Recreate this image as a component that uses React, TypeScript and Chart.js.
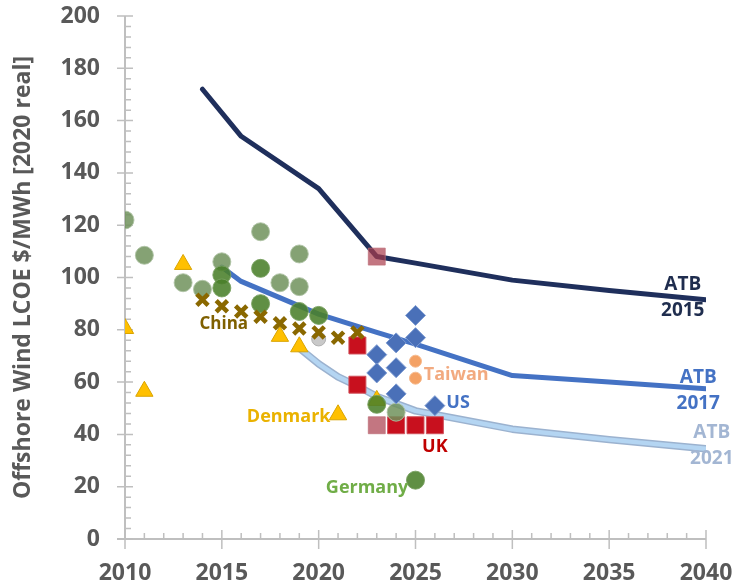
import React, { useEffect, useRef } from "react";
import { Chart, registerables } from "chart.js";

Chart.register(...registerables);

// ATB projection curves (year, $/MWh)
const atb2015Years = [2014, 2016, 2020, 2023, 2025, 2030, 2035, 2040];
const atb2015Lcoe = [172, 154, 134, 108, 105.5, 99, 95, 91.5];
const atb2017Years = [2015, 2016, 2020, 2023, 2025, 2030, 2035, 2040];
const atb2017Lcoe = [104, 98.5, 86, 79, 74.5, 62.5, 60, 57.5];
const atb2021Years = [2019, 2020, 2021, 2022, 2023, 2025, 2030, 2035, 2040];
const atb2021Lcoe = [73, 67, 62, 58.5, 54.5, 49, 42, 38, 34.5];

// Market observations
const europeYears = [2010, 2011, 2013, 2014, 2015, 2017, 2018, 2019, 2019, 2024];
const europeLcoe = [122, 108.5, 98, 95.5, 106, 117.5, 98, 109, 96.5, 48.5];
const germanyYears = [2015, 2015, 2017, 2017, 2019, 2020, 2023, 2025];
const germanyLcoe = [101, 96, 103.5, 90, 87, 85.5, 51.5, 22.5];
const otherYears = [2020];
const otherLcoe = [76.5];
const chinaYears = [2014, 2015, 2016, 2017, 2018, 2019, 2020, 2021, 2022];
const chinaLcoe = [91.5, 89, 87, 85, 82.5, 80.5, 79, 77, 79];
const denmarkYears = [2010, 2011, 2013, 2018, 2019, 2021, 2023];
const denmarkLcoe = [80.5, 56.5, 105, 77.5, 73.5, 47.5, 53];
const ukYears = [2022, 2022, 2024, 2025, 2026];
const ukLcoe = [74, 59, 43.5, 43.5, 43.5];
const ukPaleYears = [2023, 2023];
const ukPaleLcoe = [108, 43.5];
const usYears = [2025, 2025, 2024, 2023, 2023, 2024, 2024, 2026];
const usLcoe = [85.5, 77, 75, 70.5, 63.5, 65.5, 55.5, 51];
const taiwanYears = [2025, 2025];
const taiwanLcoe = [68, 61.5];

// Axis ranges
const xMin = 2010;
const xMax = 2040;
const yMin = 0;
const yMax = 200;

type Label = { text: string[]; x: number; y: number; color: string; size: number };

// Series captions, anchored in data units
const seriesLabels: Label[] = [
  { text: ["China"], x: 2015.1, y: 82.2, color: "#7f6000", size: 17 },
  { text: ["Taiwan"], x: 2027.1, y: 62.7, color: "#f2aa80", size: 18 },
  { text: ["US"], x: 2027.2, y: 52, color: "#4472c4", size: 18 },
  { text: ["Denmark"], x: 2018.45, y: 46.7, color: "#eab200", size: 18 },
  { text: ["UK"], x: 2026.0, y: 35.2, color: "#c00000", size: 18 },
  { text: ["Germany"], x: 2022.5, y: 19.6, color: "#70ad47", size: 18 },
  { text: ["ATB", "2015"], x: 2038.8, y: 92.2, color: "#1f2d4e", size: 19 },
  { text: ["ATB", "2017"], x: 2039.6, y: 56.8, color: "#4472c4", size: 19 },
  { text: ["ATB", "2021"], x: 2040.3, y: 35.6, color: "#a3b6d3", size: 19 },
];

const pts = (xs: number[], ys: number[]) => xs.map((x, i) => ({ x, y: ys[i] }));

const FONT = "'Open Sans', 'DejaVu Sans', sans-serif";

// Excel-style axes: grey lines, crossing major ticks, inside minor ticks
const axesPlugin = {
  id: "excelAxes",
  beforeDatasetsDraw(chart: any) {
    const { ctx } = chart;
    const xs = chart.scales.x;
    const ys = chart.scales.y;
    const x0 = xs.getPixelForValue(xMin);
    const y0 = ys.getPixelForValue(yMin);
    ctx.save();
    ctx.strokeStyle = "#bfbfbf";
    ctx.lineWidth = 2;
    ctx.beginPath();
    ctx.moveTo(x0, ys.getPixelForValue(yMax));
    ctx.lineTo(x0, y0);
    ctx.moveTo(x0 - 8, y0);
    ctx.lineTo(xs.getPixelForValue(xMax), y0);
    ctx.stroke();
    ctx.lineWidth = 1.5;
    ctx.beginPath();
    for (let v = yMin; v <= yMax; v += 4) {
      const py = ys.getPixelForValue(v);
      if (v % 20 === 0) {
        ctx.moveTo(x0 - 8, py);
        ctx.lineTo(x0 + 8, py);
      } else {
        ctx.moveTo(x0, py);
        ctx.lineTo(x0 + 6, py);
      }
    }
    for (let yr = xMin; yr <= xMax; yr += 1) {
      const px = xs.getPixelForValue(yr);
      if (yr % 5 === 0) {
        ctx.moveTo(px, y0 - 9);
        ctx.lineTo(px, y0 + 10);
      } else {
        ctx.moveTo(px, y0);
        ctx.lineTo(px, y0 - 6);
      }
    }
    ctx.stroke();
    ctx.restore();
  },
};

const labelPlugin = {
  id: "seriesLabels",
  afterDatasetsDraw(chart: any) {
    const { ctx } = chart;
    const xs = chart.scales.x;
    const ys = chart.scales.y;
    ctx.save();
    ctx.textAlign = "center";
    ctx.textBaseline = "middle";
    for (const l of seriesLabels) {
      ctx.font = `bold ${l.size}px ${FONT}`;
      ctx.fillStyle = l.color;
      const cx = xs.getPixelForValue(l.x);
      const cy = ys.getPixelForValue(l.y);
      const lh = 26;
      const start = cy - ((l.text.length - 1) * lh) / 2;
      l.text.forEach((t, i) => ctx.fillText(t, cx, start + i * lh));
    }
    ctx.restore();
  },
};

// Pin the plot rectangle: scales get a fixed size and no label overhang padding
const pinScale = (size: number) => (s: any) => {
  if (s.isHorizontal()) s.height = size;
  else s.width = size;
  s.paddingTop = 0;
  s.paddingBottom = 0;
  s.paddingLeft = 0;
  s.paddingRight = 0;
};

export default function App() {
  const canvasRef = useRef<HTMLCanvasElement | null>(null);

  useEffect(() => {
    if (!canvasRef.current) return;
    Chart.defaults.font.family = FONT;

    const line = (xs: number[], ys: number[], color: string, width: number, order: number) => ({
      type: "line" as const,
      data: pts(xs, ys),
      borderColor: color,
      borderWidth: width,
      pointRadius: 0,
      tension: 0,
      fill: false,
      borderCapStyle: "round" as const,
      borderJoinStyle: "round" as const,
      order,
    });

    const marker = (
      xs: number[],
      ys: number[],
      style: string,
      radius: number,
      fill: string,
      border: string,
      borderWidth: number,
      order: number
    ) => ({
      type: "scatter" as const,
      data: pts(xs, ys),
      pointStyle: style,
      pointRadius: radius,
      backgroundColor: fill,
      borderColor: border,
      pointBorderWidth: borderWidth,
      borderWidth,
      showLine: false,
      order,
    });

    const chart = new Chart(canvasRef.current, {
      type: "scatter",
      data: {
        datasets: [
          line(atb2021Years, atb2021Lcoe, "#9bb2cf", 7.5, 20),
          line(atb2021Years, atb2021Lcoe, "#b4d5f2", 4.5, 19),
          line(atb2015Years, atb2015Lcoe, "#1f2f5c", 5, 18),
          line(atb2017Years, atb2017Lcoe, "#4472c4", 5, 17),
          marker(otherYears, otherLcoe, "circle", 7, "#c9c9c9", "#b0b0b0", 1, 16),
          marker(ukYears, ukLcoe, "rect", 12, "#c8101e", "#d0505a", 1, 15),
          marker(ukPaleYears, ukPaleLcoe, "rect", 12, "rgba(170,60,75,0.7)", "rgba(190,110,120,0.7)", 1, 14),
          marker(denmarkYears, denmarkLcoe, "triangle", 10, "#ffc000", "#d9a400", 1, 13),
          marker(europeYears, europeLcoe, "circle", 9, "rgba(112,146,92,0.85)", "rgba(175,195,165,0.9)", 1, 12),
          marker(germanyYears, germanyLcoe, "circle", 9, "rgba(74,128,42,0.88)", "rgba(120,160,95,0.9)", 1, 11),
          marker(chinaYears, chinaLcoe, "crossRot", 8, "#8a6800", "#8a6800", 4.5, 10),
          marker(usYears, usLcoe, "rectRot", 10, "#4a70b8", "#7e9cd2", 1, 9),
          marker(taiwanYears, taiwanLcoe, "circle", 6, "#f4a164", "#f6b98c", 1, 8),
        ] as any,
      },
      options: {
        responsive: false,
        animation: false,
        layout: { padding: { top: 16, right: 30, left: 0, bottom: 0 } },
        plugins: {
          legend: { display: false },
          tooltip: { enabled: false },
        },
        scales: {
          x: {
            type: "linear",
            min: xMin,
            max: xMax,
            grid: { display: false, drawTicks: false },
            border: { display: false },
            afterFit: pinScale(47),
            ticks: {
              stepSize: 5,
              padding: 21,
              color: "#595959",
              font: { size: 23, weight: "bold", family: FONT },
              callback: (v: any) => String(v),
              maxRotation: 0,
            },
          },
          y: {
            type: "linear",
            min: yMin,
            max: yMax,
            grid: { display: false, drawTicks: false },
            border: { display: false },
            afterFit: pinScale(125),
            ticks: {
              stepSize: 20,
              padding: 25,
              color: "#595959",
              font: { size: 23, weight: "bold", family: FONT },
              callback: (v: any) => String(v),
            },
            title: {
              display: true,
              text: "Offshore Wind LCOE $/MWh [2020 real]",
              color: "#595959",
              font: { size: 23, weight: "bold", family: FONT },
              padding: { top: 10, bottom: 0 },
            },
          },
        },
      },
      plugins: [axesPlugin, labelPlugin],
    });

    return () => chart.destroy();
  }, []);

  return (
    <div style={{ position: "absolute", left: 0, top: 0, width: 736, height: 586, background: "#fff" }}>
      <canvas ref={canvasRef} width={736} height={586} />
    </div>
  );
}
